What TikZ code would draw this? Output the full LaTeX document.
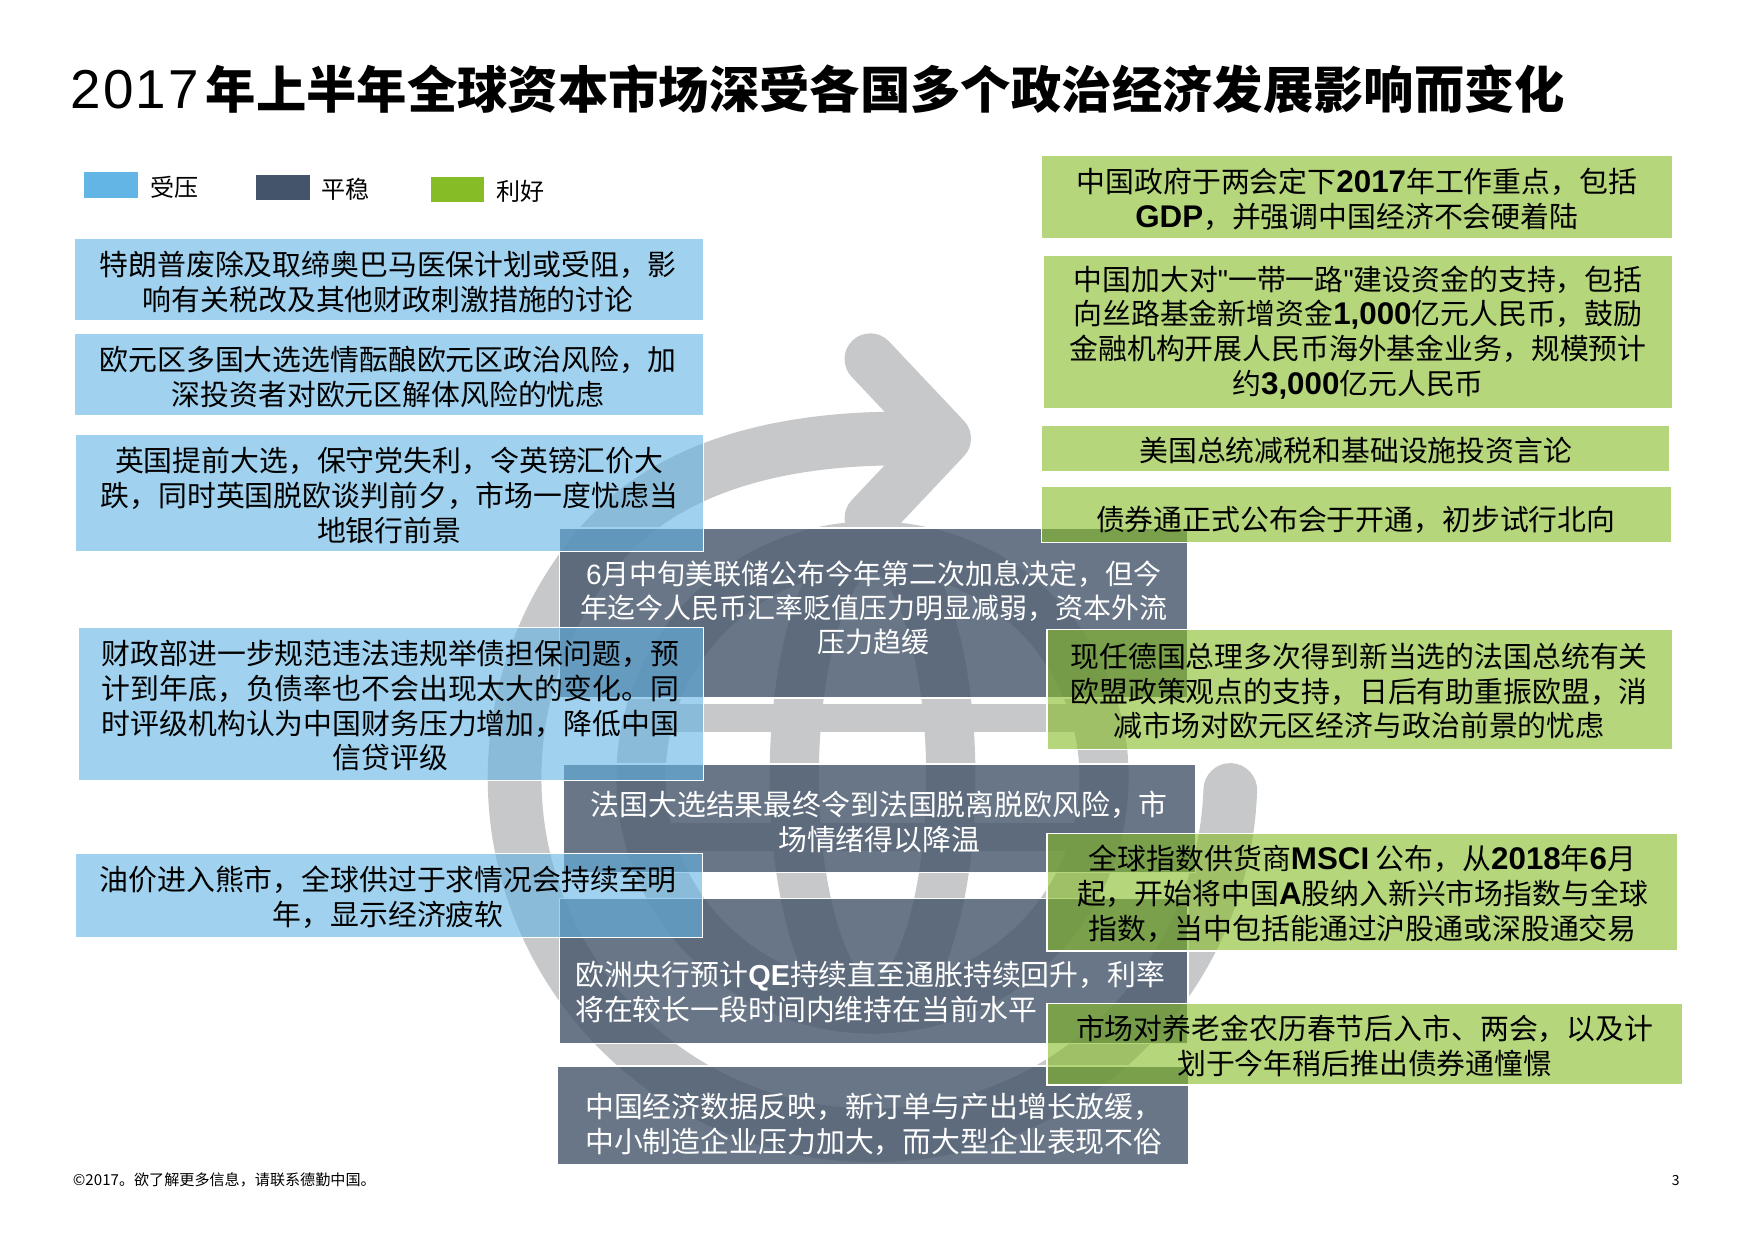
\documentclass[tikz,border=0pt]{standalone}
\usepackage{fontspec}
\setmainfont{Noto Sans CJK SC}
\newfontfamily\lat{Liberation Sans}
\newfontfamily\latsp{Liberation Sans}[LetterSpace=4]
\definecolor{pblue}{HTML}{62B5E5}
\definecolor{pdark}{HTML}{44546A}
\definecolor{pgreen}{HTML}{86BC25}
\definecolor{globegrey}{HTML}{C7C8CA}
\newcommand\bodyfont{\fontsize{25.8pt}{31pt}\selectfont}
\newcommand\lb[1]{{\fontsize{28pt}{31pt}\lat\bfseries #1}}
\newcommand\sqmark{{\lat "}}
\newcommand\mkbox[6]{\node[#2, minimum width=#5pt-#3pt, minimum height=#6pt-#4pt] (#1) at ({(#3+#5)/2},{(#4+#6)/2}) {};}
\tikzset{
  boxbase/.style={draw=white, line width=1.2pt, inner sep=0pt, outer sep=0pt, rectangle},
  bluebox/.style={boxbase, fill=pblue, fill opacity=0.6},
  darkbox/.style={boxbase, fill=pdark, fill opacity=0.8},
  greenbox/.style={boxbase, fill=pgreen, fill opacity=0.6},
  btext/.style={inner sep=0pt, align=center, font=\bodyfont, text=black},
  wtext/.style={inner sep=0pt, align=center, font=\bodyfont, text=white},
  wltext/.style={inner sep=0pt, align=left, font=\bodyfont, text=white, anchor=west},
  legsq/.style={inner sep=0pt, outer sep=0pt, minimum width=48pt, minimum height=23pt},
  legtext/.style={inner sep=0pt, anchor=west, font=\fontsize{21.5pt}{24pt}\selectfont},
  ring/.style={draw=globegrey, line cap=round, line join=round},
}
\begin{document}
\begin{tikzpicture}[x=1pt,y=-1pt]
\useasboundingbox (0,0) rectangle (1568,1109);
\fill[white] (0,0) rectangle (1568,1109);

% background globe logo
\draw[ring, line width=48pt] ({780+320*cos(2)},{695+320*sin(2)}) arc[start angle=2, end angle=220, radius=320]
   .. controls (605.6,405) and (725,392) .. (805,392);
\draw[ring, line width=46pt] (778,321) -- (845,392) -- (778,463);
\draw[ring, line width=44pt] (780,695) circle[radius=207];
\draw[ring, line width=44pt] (780,695) ellipse[x radius=70, y radius=207];
\draw[ring, line cap=butt, line width=25pt] (580,642) -- (980,642);
\draw[ring, line cap=butt, line width=25pt] (580,748) -- (980,748);

% title
\node[anchor=west, inner sep=0pt, font=\fontsize{45pt}{50pt}\selectfont\bfseries] (title) at (63,80)
  {{\mdseries\fontsize{49pt}{50pt}\latsp 2017}\hspace{6pt}年上半年全球资本市场深受各国多个政治经济发展影响而变化};

% legend
\node[legsq, fill=pblue, anchor=north west] (leg1) at (75,154) {};
\node[legtext] (leg1t) at (134,167) {受压};
\node[legsq, fill=pdark, anchor=north west] (leg2) at (229,156) {};
\node[legtext] (leg2t) at (287,169) {平稳};
\node[legsq, fill=pgreen, anchor=north west] (leg3) at (385,158) {};
\node[legtext] (leg3t) at (444,171) {利好};

% dark (stable) boxes
\mkbox{d1}{darkbox}{500}{472}{1062}{624}
\mkbox{d2}{darkbox}{504}{683}{1069}{780}
\mkbox{d3}{darkbox}{500}{803}{1062}{933}
\mkbox{d4}{darkbox}{498}{953}{1063}{1041}
\node[wtext, font=\fontsize{25pt}{30.5pt}\selectfont] (d1t) at (781,543) {{\lat 6}月中旬美联储公布今年第二次加息决定，但今\\年迄今人民币汇率贬值压力明显减弱，资本外流\\压力趋缓};
\node[wtext] (d2t) at (786,735) {法国大选结果最终令到法国脱离脱欧风险，市\\场情绪得以降温};
\node[wltext] (d3t) at (514,887) {欧洲央行预计{\lat\bfseries QE}持续直至通胀持续回升，利率\\将在较长一段时间内维持在当前水平};
\node[wltext] (d4t) at (523,1005) {中国经济数据反映，新订单与产出增长放缓，\\中小制造企业压力加大，而大型企业表现不俗};

% blue (pressure) boxes
\mkbox{b1}{bluebox}{66}{213}{629}{287}
\mkbox{b2}{bluebox}{66}{298}{629}{372}
\mkbox{b3}{bluebox}{67}{388}{629}{493}
\mkbox{b4}{bluebox}{70}{561}{629}{698}
\mkbox{b5}{bluebox}{67}{763}{628}{838}
\node[btext] (b1t) at (347,252) {特朗普废除及取缔奥巴马医保计划或受阻，影\\响有关税改及其他财政刺激措施的讨论};
\node[btext] (b2t) at (347,337) {欧元区多国大选选情酝酿欧元区政治风险，加\\深投资者对欧元区解体风险的忧虑};
\node[btext] (b3t) at (348,443) {英国提前大选，保守党失利，令英镑汇价大\\跌，同时英国脱欧谈判前夕，市场一度忧虑当\\地银行前景};
\node[btext] (b4t) at (349,631) {财政部进一步规范违法违规举债担保问题，预\\计到年底，负债率也不会出现太大的变化。同\\时评级机构认为中国财务压力增加，降低中国\\信贷评级};
\node[btext] (b5t) at (347,802) {油价进入熊市，全球供过于求情况会持续至明\\年，显示经济疲软};

% green (positive) boxes
\mkbox{g1}{greenbox}{931}{139}{1495}{213}
\mkbox{g2}{greenbox}{933}{228}{1495}{365}
\mkbox{g3}{greenbox}{931}{380}{1493}{422}
\mkbox{g4}{greenbox}{931}{435}{1494}{485}
\mkbox{g5}{greenbox}{936}{563}{1495}{670}
\mkbox{g6}{greenbox}{936}{745}{1500}{850}
\mkbox{g7}{greenbox}{936}{897}{1504}{970}
\node[btext] (g1t) at (1213,178) {中国政府于两会定下\lb{2017}年工作重点，包括\\\lb{GDP}，并强调中国经济不会硬着陆};
\node[btext] (g2t) at (1214,297) {中国加大对\sqmark 一带一路\sqmark 建设资金的支持，包括\\向丝路基金新增资金\lb{1,000}亿元人民币，鼓励\\金融机构开展人民币海外基金业务，规模预计\\约\lb{3,000}亿元人民币};
\node[btext] (g3t) at (1212,403) {美国总统减税和基础设施投资言论};
\node[btext] (g4t) at (1212,465) {债券通正式公布会于开通，初步试行北向};
\node[btext] (g5t) at (1215,618) {现任德国总理多次得到新当选的法国总统有关\\欧盟政策观点的支持，日后有助重振欧盟，消\\减市场对欧元区经济与政治前景的忧虑};
\node[btext] (g6t) at (1218,799) {全球指数供货商\lb{MSCI} 公布，从\lb{2018}年\lb{6}月\\起，开始将中国\lb{A}股纳入新兴市场指数与全球\\指数，当中包括能通过沪股通或深股通交易};
\node[btext] (g7t) at (1220,935) {市场对养老金农历春节后入市、两会，以及计\\划于今年稍后推出债券通憧憬};

% footer
\node[anchor=west, inner sep=0pt, font=\fontsize{13.5pt}{15pt}\selectfont] (foot) at (65,1055) {©2017。欲了解更多信息，请联系德勤中国。};
\node[inner sep=0pt, font=\fontsize{12.5pt}{14pt}\selectfont] (pnum) at (1498,1055) {3};
\end{tikzpicture}
\end{document}
